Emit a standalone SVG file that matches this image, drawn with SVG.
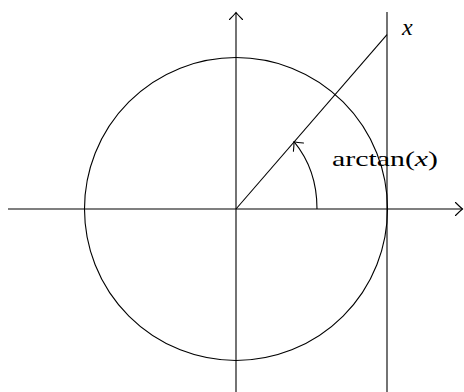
<svg xmlns="http://www.w3.org/2000/svg" width="464" height="392" viewBox="0 0 464 392">
<style>
.ln{fill:none;stroke:#000;stroke-width:1.1}
.tx{font-family:"Liberation Serif","DejaVu Serif",serif;fill:#000}
</style>
<defs>
<marker id="ah" viewBox="-9 -8 11 16" markerWidth="11" markerHeight="16" refX="0" refY="0" orient="auto" markerUnits="userSpaceOnUse">
<path d="M-7,-6.5 Q-2.5,-2 0,0 Q-2.5,2 -7,6.5" fill="none" stroke="#000" stroke-width="1.1" stroke-linecap="round"/>
</marker>
</defs>
<rect width="464" height="392" fill="#fff"/>
<g id="circle"><circle class="ln" cx="236" cy="209" r="151.5"/></g>
<g id="connectors">
<line class="ln" x1="8" y1="209" x2="462.5" y2="209" marker-end="url(#ah)"/>
<line class="ln" x1="236" y1="392" x2="236" y2="12.5" marker-end="url(#ah)"/>
<line class="ln" x1="387" y1="12" x2="387" y2="392"/>
<line class="ln" x1="236" y1="209" x2="387" y2="34.7"/>
<path class="ln" d="M317,209 A81,96 0 0 0 294,141.7" marker-end="url(#ah)"/>
</g>
<g id="label-x"><text class="tx" x="402" y="35" font-size="24" font-style="italic">x</text></g>
<g id="label-arctan"><text class="tx" x="332" y="166" font-size="22" textLength="106" lengthAdjust="spacingAndGlyphs">arctan(<tspan font-style="italic">x</tspan>)</text></g>
</svg>
